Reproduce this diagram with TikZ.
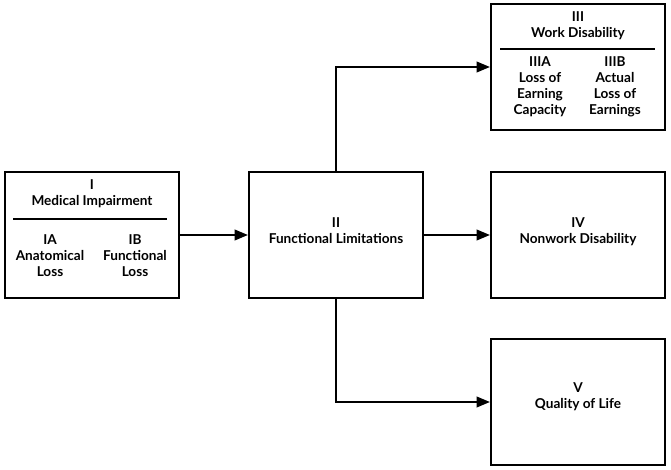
\documentclass[tikz,border=0pt]{standalone}
\usepackage{fontspec}
\setmainfont{Lato}
\usepackage{tikz}
\usetikzlibrary{arrows,calc}
\tikzset{stage/.style={draw,line width=1.3pt,minimum width=131pt,minimum height=94pt,inner sep=0pt}}
\tikzset{label text/.style={align=center,font=\bfseries\fontsize{10.2}{12}\selectfont}}
\tikzset{link/.style={line width=1.3pt,-triangle 45}}

\begin{document}
\begin{tikzpicture}[x=0.75pt,y=-0.75pt]
        \useasboundingbox (0,0) rectangle (671,470);
        % the five stages
        \node (imp)  at (92,235)  [stage] {};
        \node (func) at (336,235) [stage,label text,text depth=6pt] {II\\Functional Limitations};
        \node (work) at (578,67)  [stage] {};
        \node (nonw) at (578,235) [stage,label text,text depth=6pt] {IV\\Nonwork Disability};
        \node (qol)  at (578,402) [stage,label text,text depth=9pt] {V\\Quality of Life};
        % inside stage I
        \node (impT) at (92,194) [label text] {I\\Medical Impairment};
        \draw [line width=1.2pt] (13,219) -- (167,219);
        \node (impA) at (50,256) [label text] {IA\\Anatomical\\Loss};
        \node (impB) at (135,256) [label text] {IB\\Functional\\Loss};
        % inside stage III
        \node (workT) at (578,26) [label text] {III\\Work Disability};
        \draw [line width=1.2pt] (500,49) -- (655,49);
        \node (workA) at (540,87) [label text] {IIIA\\Loss of\\Earning\\Capacity};
        \node (workB) at (615,87) [label text] {IIIB\\Actual\\Loss of\\Earnings};
        % connectors
        \draw [link] (imp) -- (func);
        \draw [link] (func) -- (nonw);
        \draw [link] (func.north) |- (work.west);
        \draw [link] (func.south) |- (qol.west);
    \end{tikzpicture}
\end{document}
